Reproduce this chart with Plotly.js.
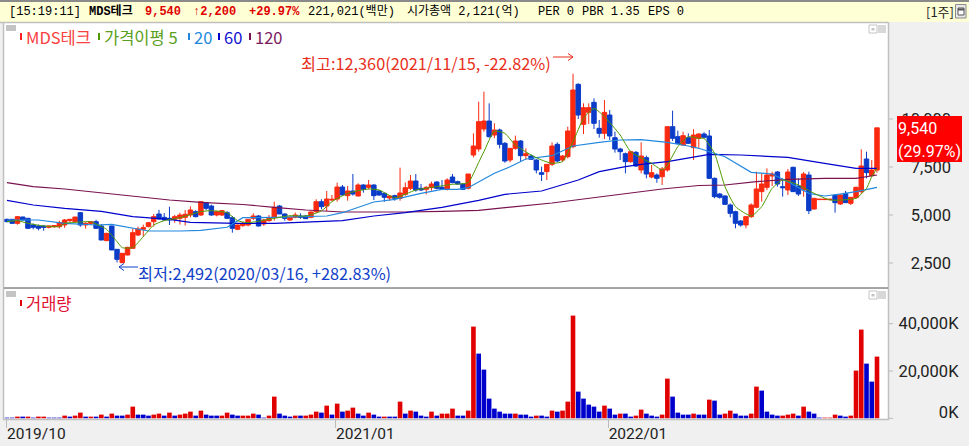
<!DOCTYPE html>
<html><head><meta charset="utf-8">
<script src="https://cdn.plot.ly/plotly-3.0.1.min.js"></script>
<style>html,body{margin:0;padding:0;background:#f0f0f0;overflow:hidden}#c{width:969px;height:446px}</style>
</head><body><div id="c"></div>
<script>
const opens=[4775,4775,4566,4896,4827,4480,4428,4428,4358,4393,
4393,4480,4705,4653,5122,4480,4566,4653,4428,3664,
4428,3212,2518,2917,3264,3959,4254,4393,4653,5052,
4879,4827,4775,4827,4879,5000,5174,5000,5643,5469,
5000,5000,5122,4862,4254,4445,4479,4827,4948,4531,
4705,4879,5469,5052,4740,4879,4948,4948,4879,5174,
5694,5469,5781,5833,6458,6007,6250,5990,6563,6441,
6563,6250,6129,5886,6007,5868,6076,6389,6771,6389,
6337,6424,6719,6441,6354,6979,6736,6615,6389,8125,
8437,9479,9895,9166,9427,8732,7864,8472,8854,8090,
8073,7864,7205,7257,7639,8680,7864,8038,8559,11805,
9722,10347,10868,9514,9253,10208,9028,8437,8194,7778,
8263,7344,7986,6979,7083,6996,7344,9600,9080,8646,
9028,8507,8993,9219,9115,6910,6094,5990,5522,5174,
4688,4480,4914,5400,6216,6441,7032,7240,6476,6303,
7483,6511,6303,7084,5313,5800,5800,5800,6025,5574,
6129,5608,5903,6216,7917,7049,7340];
const highs=[4810,4790,4930,4914,4840,4560,4500,4460,4440,4480,
4700,4790,4800,4900,5150,4620,4670,4750,4520,4070,
4440,3225,3020,3340,4300,4400,4500,4640,5050,5270,
5100,5434,5000,5122,5260,5450,5250,5695,5680,5540,
5225,5260,5210,4950,4500,4640,4780,5086,5000,4800,
5000,5694,5520,5090,4930,5130,5086,5000,5180,5820,
5820,6250,6042,6684,6563,6510,7135,6650,6600,6823,
6600,6300,6180,6000,6060,7465,6700,7083,7135,6615,
6500,6736,6760,6823,6910,7135,6788,6650,7135,9253,
10902,11423,10816,9774,9500,8800,8472,9132,8900,8472,
8159,7900,7517,7640,8784,8784,8120,9600,12360,11860,
10816,10816,11076,9948,10990,10468,9340,8500,8250,8350,
8333,8784,8090,7604,7170,7500,9600,10434,9392,9340,
9253,9470,9253,9310,9427,6950,6150,6020,5600,5220,
4740,4920,5608,7257,7171,7431,7257,7290,6910,7400,
7520,6910,7240,7257,5870,5830,5830,5830,6060,6060,
6251,5920,6476,8421,8299,7865,9540];
const lows=[4620,4540,4500,4720,4290,4250,4200,4180,4300,4340,
4300,4330,4620,4600,4390,4290,4480,4270,3690,3640,
3170,2530,2492,2900,3250,3900,3870,4370,4400,4760,
4720,4480,4600,4500,4450,4880,4880,4950,5240,4960,
4930,4950,4790,4080,4210,4390,4410,4740,4400,4430,
4650,4705,5050,4705,4700,4830,4800,4790,4830,5100,
5300,5207,5730,5694,6042,5747,6007,5970,6164,6337,
5781,6000,5694,5747,5747,5747,6000,6302,6215,6250,
6076,6267,6337,6300,6280,6650,6563,6300,6337,8000,
8300,9340,9028,9000,8472,7725,7743,8400,7778,7864,
7880,7170,6771,6823,7552,7743,7778,7950,8472,10000,
9218,9740,9479,9028,8958,8906,8246,7864,7170,7725,
7500,7170,6910,6910,6680,6563,7256,8854,8680,8646,
8700,7864,8500,9000,6900,5869,5850,5520,4879,4306,
4390,4306,4850,5348,5695,6300,6511,6476,5955,6042,
6200,5990,5955,5052,5280,5780,5790,5790,5122,5520,
5640,5520,5850,6100,6910,6997,7200];
const closes=[4653,4566,4914,4740,4306,4358,4306,4358,4428,4445,
4601,4740,4775,4896,4480,4566,4653,4306,3698,4046,
3178,2691,3004,3316,4080,4271,4341,4601,4914,4792,
4740,4740,4914,5000,5035,5261,4914,5695,5348,5000,
5174,5226,4827,4306,4480,4566,4775,4948,4427,4740,
4827,5399,5052,4827,4879,5000,4879,4809,5156,5694,
5434,5833,5816,6458,6042,6250,6094,6563,6337,6563,
6007,6042,5920,5990,5868,6146,6424,6771,6302,6302,
6441,6615,6389,6337,6823,6684,6615,6337,7135,8594,
9861,9895,9080,9427,8680,7812,8472,8854,8090,8194,
7899,7344,7118,7639,8594,7812,8073,9375,11510,10208,
10590,10590,9774,9253,10347,9114,8437,8298,7778,8298,
7552,8073,7135,7205,6910,7396,9600,8993,8732,9132,
8732,9166,9219,9045,6910,5955,5921,5556,5087,4567,
4480,4914,5522,6355,6615,7084,7136,6615,6424,7240,
6216,6094,7136,5226,5869,5820,5820,5820,5643,6042,
5643,5921,6441,7553,7205,7340,9540];
const volumes=[282,282,705,705,705,282,705,705,282,282,
282,1128,705,1128,2397,705,705,705,1551,705,
1974,1128,1128,1551,4935,1551,1551,1128,1551,1974,
1128,2397,1128,1551,1974,2820,1128,3243,1551,1128,
1128,1128,2397,1551,1128,1128,1128,1974,1551,282,
1128,9165,1974,1128,705,1128,1128,1128,1551,2820,
2397,5358,1551,6204,2820,3243,4512,1974,1128,2397,
1551,705,705,705,705,7050,1974,3243,2820,1128,
705,2820,1128,1974,1974,4089,1128,1128,3243,38775,
27354,20586,8319,4089,2820,1974,1974,1974,1551,1551,
705,1128,1128,705,3243,2820,3243,7050,43428,11280,
8319,5781,4935,2820,5358,4089,1551,1974,1974,705,
1128,3666,1974,1128,705,1551,16779,9165,2397,1551,
1551,1974,1551,1551,7896,7473,1551,1974,3243,1974,
1128,1128,1974,13395,11703,2820,1551,1128,1128,1551,
1974,1128,4935,2820,1974,282,282,282,1551,1128,
705,1128,20163,37506,23124,15510,26085];
const volumeUp=[0,0,1,0,1,0,1,1,0,0,
0,1,0,1,1,0,1,0,1,0,
1,0,0,1,1,0,0,0,1,1,
0,1,0,1,1,1,0,1,0,0,
0,1,1,0,0,1,1,1,0,0,
1,1,0,0,0,1,0,1,1,1,
0,1,0,1,0,1,1,0,0,1,
0,0,1,0,0,1,0,1,0,0,
0,1,0,1,1,1,0,0,1,1,
0,0,0,0,0,0,0,1,0,0,
0,1,0,0,1,0,1,1,1,0,
0,0,0,0,1,0,0,1,0,0,
1,1,0,0,0,1,1,0,0,0,
0,1,0,0,1,0,0,1,1,0,
0,0,1,1,0,0,0,0,1,1,
1,0,1,0,0,0,1,1,1,0,
0,1,1,1,0,0,1];
const ma5Idx=[0,2,4,7,10,11,13,16,17,19,21,22,24,26,28,30,33,37,39,42,44,46,50,54,57,60,62,65,69,71,74,78,82,85,88,90,91,93,95,97,100,102,104,106,108,110,112,114,117,119,123,125,126,128,130,132,133,135,137,139,142,144,146,148,151,154,157,162,164,165,166];
const ma5=[4653,4705,4566,4428,4393,4566,4618,4653,4532,4254,3612,3299,3299,3872,4480,4705,4862,5174,5226,5122,4705,4601,4775,4965,4948,5209,5695,6129,6354,6302,5903,6302,6476,6597,6684,7743,8298,9375,9253,8646,8125,7864,7691,7778,8819,10034,10555,10121,9166,8298,7691,7344,7604,8559,9080,8993,8993,8212,6476,5435,4948,5435,6389,6823,6563,6129,5782,5869,6389,6997,7431];
const ma20Idx=[0,6,11,17,20,23,27,33,37,42,45,51,57,61,64,67,70,74,79,83,86,88,90,93,96,99,104,108,113,117,121,126,130,132,137,142,146,149,153,156,160,163,166];
const ma20=[4740,4740,4568,4480,4516,4360,4167,4167,4203,4360,4860,4880,4912,4948,5120,5401,5677,5818,6130,6339,6339,6422,6735,7172,7516,7917,8089,8594,8786,8906,8922,8786,8594,8474,8036,7224,7136,6735,6130,5990,6130,6266,6443];
const ma60Idx=[0,5,11,18,24,31,35,44,51,57,64,70,76,83,90,95,102,109,113,118,121,126,130,134,140,149,156,162,166];
const ma60=[5766,5521,5349,5193,4912,4776,4620,4568,4568,4620,4703,4948,5120,5401,5766,6078,6250,6823,7255,7516,7641,7776,7984,8161,8125,8005,7693,7432,7432];
const ma120Idx=[0,5,11,24,31,37,45,51,57,64,70,76,83,90,104,117,125,132,137,143,149,156,162,166];
const ma120=[6683,6474,6354,5990,5781,5662,5547,5401,5261,5156,5141,5156,5193,5245,5625,6094,6354,6537,6563,6735,6860,6912,6912,7084];
const priceTicks=[2500,5000,7500,10000];
const priceTickText=['2,500','5,000','7,500','10,000'];
const volTicks=[0,20000,40000];
const volLabelAt=[2700,20000,40000];
const volTickText=['0K','20,000K','40,000K'];
const dateTicks=[-0.1,62.7,114.7];
const dateTickText=['2019/10','2021/01','2022/01'];

const W=969,H=446;
const px=x=>x/W, py=y=>1-y/H;
const idx=opens.map((_,i)=>i);
const UP='#fa2a10',DOWN='#0a3cc8';
const cjk='"Noto Sans CJK KR","Noto Sans",sans-serif';
const lab='Roboto,"Noto Sans",sans-serif';
const mono='"Liberation Mono","Noto Sans CJK KR",monospace';

const traces=[
 {type:'candlestick',x:idx,open:opens,high:highs,low:lows,close:closes,xaxis:'x',yaxis:'y',hoverinfo:'skip',showlegend:false,whiskerwidth:0,
  increasing:{line:{color:UP,width:1},fillcolor:UP},decreasing:{line:{color:DOWN,width:1},fillcolor:DOWN}},
 {type:'scatter',mode:'lines',x:ma120Idx,y:ma120,line:{color:'#7a1250',width:1.2},xaxis:'x',yaxis:'y',hoverinfo:'skip',showlegend:false},
 {type:'scatter',mode:'lines',x:ma60Idx,y:ma60,line:{color:'#0000cc',width:1.2},xaxis:'x',yaxis:'y',hoverinfo:'skip',showlegend:false},
 {type:'scatter',mode:'lines',x:ma20Idx,y:ma20,line:{color:'#2288dd',width:1.2},xaxis:'x',yaxis:'y',hoverinfo:'skip',showlegend:false},
 {type:'scatter',mode:'lines',x:ma5Idx,y:ma5,line:{color:'#4f9a00',width:1,shape:'spline',smoothing:0.5},xaxis:'x',yaxis:'y',hoverinfo:'skip',showlegend:false},
 {type:'bar',x:idx,y:volumes,marker:{color:volumeUp.map(u=>u?'#e00000':'#0000cc'),line:{width:0}},xaxis:'x2',yaxis:'y2',hoverinfo:'skip',showlegend:false}
];

const shapes=[];
const rect=(x0,y0,x1,y1,fill,line)=>shapes.push({type:'rect',xref:'paper',yref:'paper',x0:px(x0),x1:px(x1),y0:py(y1),y1:py(y0),fillcolor:fill,line:{color:line||fill,width:line?1:0},layer:'above'});
const seg=(x0,y0,x1,y1,color,w)=>shapes.push({type:'line',xref:'paper',yref:'paper',x0:px(x0),x1:px(x1),y0:py(y0),y1:py(y1),line:{color:color,width:w||1},layer:'above'});
rect(0,0,969,2,'#8a8a8a');
rect(0,2,969,22,'#ffffd6');
rect(955.5,4.5,966,18,'#e8e8e8','#8a8a8a');
rect(958,8,964,15,'#ffffff','#555555');
seg(958,9.5,964,9.5,'#555555',2);
seg(0,22.5,888,22.5,'#c0c0c0',1.5);
seg(3.5,22,3.5,420,'#c0c0c0',1.5);
seg(888.5,22,888.5,420,'#c0c0c0',1.5);
seg(4,288,888,288,'#8a8a8a',1.5);
seg(3,419.5,889,419.5,'#c0c0c0',1.5);
[[25,'top'],[291,'bot']].forEach(p=>{
 rect(6,p[0],16,p[0]+6,'#c4c4c4');
 rect(869,p[0],877,p[0]+8,'#ffffff','#c4c4c4');
 rect(871.5,p[0]+3,874.5,p[0]+5.5,'#c4c4c4');
 rect(878,p[0],886,p[0]+8,'#d8d8d8');
});
rect(20,33,22,40,'#ff2020');
rect(98,33,100,40,'#4f9a00');
rect(188,33,190,40,'#2288dd');
rect(218,33,220,40,'#0000cc');
rect(249,33,251,40,'#7a1250');
rect(20,300,22,306,'#e00000');
priceTicks.forEach(v=>shapes.push({type:'line',xref:'paper',yref:'y',x0:px(889),x1:px(893),y0:v,y1:v,line:{color:'#bbbbbb',width:1},layer:'above'}));
volTicks.forEach(v=>shapes.push({type:'line',xref:'paper',yref:'y2',x0:px(889),x1:px(893),y0:v,y1:v,line:{color:'#bbbbbb',width:1},layer:'above'}));
rect(897,116,962,162,'#ff0000');
seg(553,57,573,57,'#e8301c',1);
seg(568,53.5,573,57,'#e8301c',1);seg(568,60.5,573,57,'#e8301c',1);
seg(119,267,138,267,'#1040c8',1);
seg(124,263.5,119,267,'#1040c8',1);seg(124,270.5,119,267,'#1040c8',1);

const anns=[];
const txt=(x,y,t,color,size,font,anchor)=>anns.push({xref:'paper',yref:'paper',x:px(x),y:py(y),text:t,showarrow:false,xanchor:anchor||'left',yanchor:'middle',align:'left',
 font:{family:font,size:size,color:color},borderpad:0,borderwidth:0});
const HS=12;
txt(9,11.5,'[15:19:11]','#000',HS,mono);
txt(89,11.5,'<b>MDS테크</b>','#000',HS,mono);
txt(145,11.5,'<b>9,540</b>','#e00000',HS,mono);
txt(193,11.5,'<b>↑2,200</b>','#e00000',HS,mono);
txt(249,11.5,'<b>+29.97%</b>','#e00000',HS,mono);
txt(308,11.5,'221,021(백만)','#000',HS,mono);
txt(407,11.5,'시가총액 2,121(억)','#000',HS,mono);
txt(538,11.5,'PER 0','#000',HS,mono);
txt(582,11.5,'PBR 1.35','#000',HS,mono);
txt(648,11.5,'EPS 0','#000',HS,mono);
txt(926,11.5,'[1주]','#222',13,cjk);
txt(26,37,'MDS테크','#f84040',16.5,cjk);
txt(104,37,'가격이평 5','#5aa020',16.5,cjk);
txt(194,37,'20','#2288dd',16.5,cjk);
txt(224,37,'60','#1010d0',16.5,cjk);
txt(255,37,'120','#7a1a60',16.5,cjk);
txt(26,303,'거래량','#e01030',16.5,cjk);
txt(301,63,'최고:12,360(2021/11/15, -22.82%)','#e8301c',16.3,cjk);
txt(138,273,'최저:2,492(2020/03/16, +282.83%)','#1040c8',16.3,cjk);
txt(898,128.5,'9,540','#ffffff',16,lab);
txt(898,151,'(29.97%)','#ffffff',16,lab);

const layout={
 width:W,height:H,margin:{l:0,r:0,t:0,b:0,pad:0},paper_bgcolor:'#f0f0f0',plot_bgcolor:'#ffffff',showlegend:false,dragmode:false,
 xaxis:{domain:[px(4),px(888)],range:[-0.57,168.1],anchor:'y',showticklabels:false,ticks:'',showgrid:false,zeroline:false,showline:false,rangeslider:{visible:false}},
 yaxis:{domain:[py(288),py(23)],range:[1198,15000],side:'left',anchor:'free',position:px(951),tickmode:'array',tickvals:priceTicks,ticktext:priceTickText,ticks:'',showgrid:false,zeroline:false,showline:false,
  tickfont:{family:lab,size:16.5,color:'#222'}},
 xaxis2:{domain:[px(4),px(888)],range:[-0.57,168.1],anchor:'y2',tickmode:'array',tickvals:dateTicks,ticktext:dateTickText,ticks:'outside',ticklen:8,tickwidth:1,tickcolor:'#bbbbbb',ticklabelposition:'outside right',showgrid:false,zeroline:false,showline:false,
  tickfont:{family:lab,size:15.5,color:'#222'}},
 yaxis2:{domain:[py(419),py(289)],range:[-296,54670],side:'left',anchor:'free',position:px(958.5),tickmode:'array',tickvals:volLabelAt,ticktext:volTickText,ticks:'',showgrid:false,zeroline:false,showline:false,
  tickfont:{family:lab,size:16.5,color:'#222'}},
 bargap:0.12,boxgap:0,boxgroupgap:0.15,shapes:shapes,annotations:anns
};
Plotly.newPlot('c',traces,layout,{displayModeBar:false,staticPlot:true,responsive:false});
</script></body></html>
